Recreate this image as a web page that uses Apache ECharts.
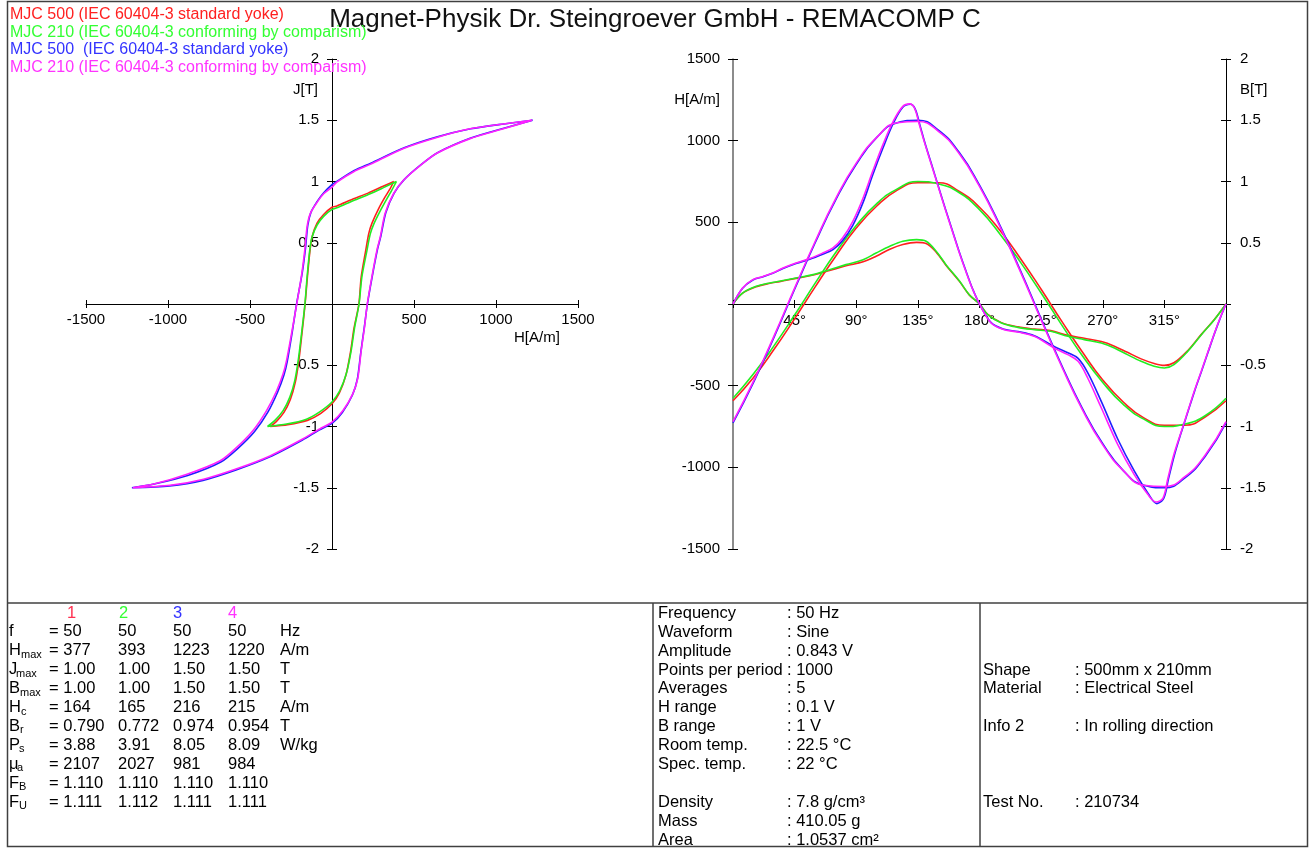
<!DOCTYPE html>
<html><head><meta charset="utf-8">
<script src="https://cdn.jsdelivr.net/npm/echarts@6/dist/echarts.min.js"></script>
<style>html,body{margin:0;padding:0;background:#fff}#c{width:1311px;height:848px}</style>
</head><body><div id="c"></div>
<script>
// ---------- DATA ----------
const TITLE = 'Magnet-Physik Dr. Steingroever GmbH - REMACOMP C';
const legendNames = ['MJC 500 (IEC 60404-3 standard yoke)','MJC 210 (IEC 60404-3 conforming by comparism)','MJC 500  (IEC 60404-3 standard yoke)','MJC 210 (IEC 60404-3 conforming by comparism)'];

// Hysteresis loops [H (A/m), J (T)]
const loopRed = [[377,1.0],[300,0.955],[220,0.905],[125,0.855],[30,0.80],[0,0.79],[-51,0.73],[-91,0.66],[-120,0.555],[-134,0.44],[-150,0.22],[-164,0],[-184,-0.25],[-203,-0.47],[-224,-0.64],[-254,-0.78],[-293,-0.885],[-340,-0.96],[-377,-1.0],[-270,-0.985],[-150,-0.95],[-70,-0.895],[0,-0.815],[45,-0.725],[84,-0.585],[113,-0.39],[134,-0.2],[164,0],[178,0.22],[206,0.44],[224,0.575],[244,0.66],[283,0.775],[322,0.87],[352,0.935],[377,1.0]];
const loopGreen = [[393,1.0],[314,0.95],[233,0.90],[132,0.845],[30,0.785],[0,0.772],[-51,0.715],[-91,0.645],[-122,0.545],[-136,0.436],[-152,0.218],[-165,0],[-186,-0.245],[-206,-0.46],[-227,-0.625],[-257,-0.76],[-298,-0.87],[-348,-0.95],[-393,-1.0],[-277,-0.98],[-156,-0.94],[-75,-0.88],[0,-0.80],[47,-0.71],[87,-0.57],[117,-0.38],[138,-0.19],[165,0],[182,0.22],[213,0.436],[233,0.57],[254,0.65],[294,0.76],[335,0.86],[365,0.93],[393,1.0]];
const loopBlue = [[1223,1.50],[1048,1.47],[846,1.43],[643,1.365],[440,1.275],[237,1.15],[136,1.09],[34,1.005],[0,0.974],[-49,0.91],[-89,0.84],[-128,0.75],[-148,0.64],[-162,0.45],[-182,0.25],[-216,0],[-245,-0.25],[-273,-0.47],[-293,-0.58],[-332,-0.72],[-392,-0.885],[-472,-1.04],[-575,-1.18],[-678,-1.29],[-880,-1.40],[-1085,-1.47],[-1220,-1.50],[-990,-1.485],[-787,-1.44],[-585,-1.355],[-382,-1.25],[-180,-1.11],[-79,-1.03],[0,-0.975],[63,-0.885],[124,-0.745],[155,-0.61],[176,-0.39],[196,-0.2],[216,0],[246,0.23],[278,0.45],[298,0.555],[328,0.745],[379,0.905],[440,1.015],[541,1.135],[643,1.235],[846,1.355],[1048,1.435],[1223,1.50]];
const loopMag = [[1220,1.50],[1044,1.47],[842,1.43],[639,1.36],[436,1.27],[233,1.14],[132,1.08],[30,0.995],[0,0.954],[-51,0.90],[-91,0.83],[-132,0.74],[-152,0.63],[-166,0.44],[-185,0.24],[-215,0],[-247,-0.245],[-277,-0.46],[-298,-0.57],[-338,-0.71],[-399,-0.87],[-480,-1.03],[-581,-1.17],[-682,-1.28],[-884,-1.39],[-1087,-1.47],[-1215,-1.50],[-986,-1.48],[-783,-1.43],[-581,-1.345],[-378,-1.24],[-176,-1.10],[-75,-1.02],[0,-0.965],[67,-0.87],[128,-0.73],[158,-0.60],[178,-0.38],[198,-0.19],[215,0],[243,0.22],[274,0.44],[294,0.545],[324,0.74],[375,0.90],[436,1.01],[537,1.13],[639,1.23],[842,1.35],[1044,1.43],[1220,1.50]];

// Waveforms: H(angle) [deg, A/m]
const hRed = [[0,0],[7,66],[17,106],[27,127],[34,137],[46,157],[58.5,177],[70.5,205],[82.5,234],[95,258],[104.5,292],[114.5,335],[124,364],[134,377],[141,370],[148.5,316],[155.5,238],[165.5,137],[172.5,56],[180,0],[186,-64],[196,-114],[208,-140],[220,-154],[232,-163],[244.5,-192],[256.5,-210],[269,-230],[278.5,-258],[288,-296],[298,-336],[307.5,-364],[315,-376],[322,-360],[332,-286],[342,-186],[351.5,-95],[360,0]];
const hGreen = [[0,0],[7,67],[17,108],[27,129],[34,139],[46,159],[58.5,180],[70.5,210],[82.5,241],[95,271],[104.5,312],[114.5,353],[124,384],[134,394],[141,384],[148.5,322],[155.5,241],[165.5,139],[172.5,57],[180,0],[186,-65],[196,-116],[208,-143],[220,-157],[232,-167],[244.5,-198],[256.5,-218],[269,-239],[278.5,-269],[288,-310],[298,-351],[307.5,-381],[315,-392],[322,-371],[332,-290],[342,-188],[351.5,-96],[360,0]];
const hBlue = [[0,0],[7,96],[14.5,147],[22,167],[29,188],[36.5,217],[46,248],[56,274],[65.5,305],[73,333],[80,388],[87.5,482],[95,622],[102,790],[109.5,955],[117,1105],[124,1205],[129.5,1223],[133,1195],[136.5,1095],[140,990],[145,855],[150,720],[155,585],[160,455],[165,325],[170,205],[175,92],[180,0],[188.5,-114],[198,-155],[208,-169],[220,-194],[234.5,-260],[244.5,-298],[252,-333],[259,-420],[269,-598],[281,-828],[293,-1022],[303,-1158],[309.5,-1222],[314.5,-1190],[318,-1070],[322.5,-920],[327,-795],[332,-665],[337,-535],[342,-415],[346.5,-305],[351.5,-183],[356,-82],[360,0]];
const hMag = [[0,0],[7,98],[14.5,149],[22,169],[29,190],[36.5,220],[46,251],[56,278],[65.5,312],[73,343],[80,404],[87.5,506],[95,649],[102,812],[109.5,976],[117,1118],[124,1210],[129,1225],[132.5,1200],[136,1100],[140,985],[145,850],[150,715],[155,580],[160,450],[165,320],[170,200],[175,90],[180,0],[188.5,-116],[198,-157],[208,-171],[220,-198],[234.5,-269],[244.5,-310],[252,-351],[259,-453],[269,-637],[281,-861],[293,-1045],[303,-1167],[309,-1212],[314,-1188],[317.5,-1070],[322,-920],[327,-790],[332,-660],[337,-530],[342,-410],[346.5,-300],[351.5,-180],[356,-80],[360,0]];

// Waveforms: B(angle) at 15 deg steps [T]
const angles15 = [0,15,30,45,60,75,90,105,120,135,150,165,180,195,210,225,240,255,270,285,300,315,330,345,360];
const bRed   = [-0.79,-0.60,-0.37,-0.12,0.14,0.39,0.62,0.80,0.93,0.99,0.99,0.92,0.79,0.60,0.37,0.12,-0.14,-0.39,-0.62,-0.80,-0.93,-0.99,-0.99,-0.92,-0.79];
const bGreen = [-0.77,-0.57,-0.34,-0.09,0.17,0.42,0.64,0.82,0.94,1.00,0.98,0.91,0.77,0.57,0.34,0.09,-0.17,-0.42,-0.64,-0.82,-0.94,-1.00,-0.98,-0.91,-0.77];
const bBlue  = [-0.97,-0.64,-0.27,0.12,0.50,0.85,1.14,1.36,1.48,1.50,1.42,1.24,0.97,0.64,0.27,-0.12,-0.50,-0.85,-1.14,-1.36,-1.48,-1.50,-1.42,-1.24,-0.97];
const bMag   = [-0.96,-0.63,-0.26,0.13,0.51,0.86,1.15,1.36,1.48,1.49,1.41,1.23,0.96,0.63,0.26,-0.13,-0.51,-0.86,-1.15,-1.36,-1.48,-1.49,-1.41,-1.23,-0.96];

// Result table
const paramMain = ['f','H','J','B','H','B','P','μ','F','F'];
const paramSub  = ['','max','max','max','c','r','s','a','B','U'];
const col1 = ['50','377','1.00','1.00','164','0.790','3.88','2107','1.110','1.111'];
const col2 = ['50','393','1.00','1.00','165','0.772','3.91','2027','1.110','1.112'];
const col3 = ['50','1223','1.50','1.50','216','0.974','8.05','981','1.110','1.111'];
const col4 = ['50','1220','1.50','1.50','215','0.954','8.09','984','1.110','1.111'];
const units = ['Hz','A/m','T','T','A/m','T','W/kg','','',''];
const infoLabels = ['Frequency','Waveform','Amplitude','Points per period','Averages','H range','B range','Room temp.','Spec. temp.','','Density','Mass','Area'];
const infoValues = [': 50 Hz',': Sine',': 0.843 V',': 1000',': 5',': 0.1 V',': 1 V',': 22.5 °C',': 22 °C','',': 7.8 g/cm³',': 410.05 g',': 1.0537 cm²'];
const sampleLabels = ['','','','Shape','Material','','Info 2','','','','Test No.'];
const sampleValues = ['','','',': 500mm x 210mm',': Electrical Steel','',': In rolling direction','','','',': 210734'];

// ---------- RENDER ----------
const FONT = '"Liberation Sans", Arial, Helvetica, sans-serif';
const C = ['#ff2020','#22ee22','#2020ff','#ff20ff'];
const LC = ['#ff2020','#33ff33','#3333ff','#ff33ff'];
const chart = echarts.init(document.getElementById('c'), null, {renderer:'canvas'});

function txt(x, y, text, size, color, align) {
  return {type:'text', x:x, y:y, silent:true, z:100,
    style:{text:text, fill:color||'#000', font:size+'px '+FONT,
      textAlign:align||'left', textVerticalAlign:'middle', align:align||'left', verticalAlign:'middle'}};
}
function ln(x1,y1,x2,y2,w,color){
  return {type:'line', silent:true, z:100, shape:{x1:x1,y1:y1,x2:x2,y2:y2}, style:{stroke:color||'#404040', lineWidth:w||1}};
}
const hide0 = v => (Math.abs(v) < 1e-9 ? '' : String(v));
const lbl = (margin, fmt) => ({show:true, formatter:fmt, margin:margin, color:'#000', fontSize:15, fontFamily:FONT, showMinLabel:true, showMaxLabel:true});
function xA(grid, min, max, interval, fmt, inside, margin, offset){
  return {gridIndex:grid, type:'value', min:min, max:max, interval:interval, position:'bottom', offset:offset,
    axisLine:{show:!inside, onZero:false, lineStyle:{color:'#000', width:1}},
    axisTick:{show:true, inside:inside, length:4, lineStyle:{color:'#000', width:1}},
    axisLabel: inside ? {show:false} : lbl(margin, fmt),
    splitLine:{show:false}, minorTick:{show:false}};
}
function yA(grid, min, max, interval, pos, offset, inside, margin, color, width){
  return {gridIndex:grid, type:'value', min:min, max:max, interval:interval, position:pos, offset:offset,
    axisLine:{show:!inside, onZero:false, lineStyle:{color:color||'#000', width:width||1}},
    axisTick:{show:true, inside:inside, length:5, lineStyle:{color:'#000', width:1}},
    axisLabel: inside ? {show:false} : lbl(margin, hide0),
    splitLine:{show:false}};
}
function ser(data, color, xi, yi, smooth, z){
  return {type:'line', data:data, xAxisIndex:xi, yAxisIndex:yi, symbol:'none', showSymbol:false,
    smooth:smooth, lineStyle:{color:color, width:1.6}, itemStyle:{color:color}, z:z, animation:false, silent:true};
}
const zip = (a, b) => a.map((v, i) => [v, b[i]]);

const graphics = [];
// frame
graphics.push({type:'rect', silent:true, z:100, shape:{x:7.5,y:1.5,width:1300,height:845}, style:{fill:null, stroke:'#404040', lineWidth:1.5}});
graphics.push(ln(7,603,1308,603,1.5));
graphics.push(ln(653,603,653,847,1.5));
graphics.push(ln(980,603,980,847,1.5));
// title & legend
graphics.push(txt(655, 20, TITLE, 26, '#111', 'center'));
const legY = [15, 33, 50, 68];
legendNames.forEach((n, i) => graphics.push(txt(10, legY[i], n, 16, LC[i], 'left')));
// axis names
graphics.push(txt(318, 90, 'J[T]', 15, '#000', 'right'));
graphics.push(txt(514, 338, 'H[A/m]', 15, '#000', 'left'));
graphics.push(txt(720, 100, 'H[A/m]', 15, '#000', 'right'));
graphics.push(txt(1240, 90, 'B[T]', 15, '#000', 'left'));
// results table
const TF = 16.5;
const rowY0 = 613, rowDy = 18.9;
['1','2','3','4'].forEach((s, i) => graphics.push(txt([67,119,173,228][i], rowY0, s, TF, ['#ff3050','#33ff33','#3333ff','#ff33ff'][i], 'left')));
const subX = {'f':0,'H':21,'J':16,'B':20,'P':19,'μ':17,'F':19};
paramMain.forEach((m, i) => {
  const y = rowY0 + rowDy*(i+1);
  graphics.push(txt(9, y, m, TF, '#000', 'left'));
  if (paramSub[i]) graphics.push(txt(subX[m], y+4, paramSub[i], 11, '#000', 'left'));
  graphics.push(txt(49, y, '= ' + col1[i], TF, '#000', 'left'));
  graphics.push(txt(118, y, col2[i], TF, '#000', 'left'));
  graphics.push(txt(173, y, col3[i], TF, '#000', 'left'));
  graphics.push(txt(228, y, col4[i], TF, '#000', 'left'));
  if (units[i]) graphics.push(txt(280, y, units[i], TF, '#000', 'left'));
});
infoLabels.forEach((l, i) => {
  const y = rowY0 + 0.3 + rowDy*i;
  if (l) graphics.push(txt(658, y, l, TF, '#000', 'left'));
  if (infoValues[i]) graphics.push(txt(787, y, infoValues[i], TF, '#000', 'left'));
});
sampleLabels.forEach((l, i) => {
  const y = rowY0 + 0.3 + rowDy*i;
  if (l) graphics.push(txt(983, y, l, TF, '#000', 'left'));
  if (sampleValues[i]) graphics.push(txt(1075, y, sampleValues[i], TF, '#000', 'left'));
});

const option = {
  backgroundColor:'#ffffff',
  animation:false,
  grid:[
    {left:86, width:492, top:59, height:490, containLabel:false},
    {left:733, width:493, top:59, height:490, containLabel:false}
  ],
  xAxis:[
    xA(0, -1500, 1500, 500, hide0, false, 8, -245),
    xA(0, -1500, 1500, 500, hide0, true, 8, -245),
    xA(1, 0, 360, 45, v => (v === 0 || v === 360) ? '' : v + '°', false, 9, -245),
    xA(1, 0, 360, 45, null, true, 9, -245)
  ],
  yAxis:[
    yA(0, -2, 2, 0.5, 'left', -246, false, 13),
    yA(0, -2, 2, 0.5, 'left', -246, true, 13),
    yA(1, -1500, 1500, 500, 'left', 0, false, 13, '#666', 1.5),
    yA(1, -1500, 1500, 500, 'left', 0, true, 13),
    yA(1, -2, 2, 0.5, 'right', 0, false, 14),
    yA(1, -2, 2, 0.5, 'right', 0, true, 14)
  ],
  series:[
    ser(loopRed,   C[0], 0, 0, 0.25, 2),
    ser(loopGreen, C[1], 0, 0, 0.25, 3),
    ser(loopBlue,  C[2], 0, 0, 0.25, 4),
    ser(loopMag,   C[3], 0, 0, 0.25, 5),
    ser(hRed,   C[0], 2, 2, 0.35, 2),
    ser(zip(angles15, bRed),   C[0], 2, 4, true, 2),
    ser(hGreen, C[1], 2, 2, 0.35, 3),
    ser(zip(angles15, bGreen), C[1], 2, 4, true, 3),
    ser(hBlue,  C[2], 2, 2, 0.35, 4),
    ser(zip(angles15, bBlue),  C[2], 2, 4, true, 4),
    ser(hMag,   C[3], 2, 2, 0.35, 5),
    ser(zip(angles15, bMag),   C[3], 2, 4, true, 5)
  ],
  graphic: graphics
};
chart.setOption(option);
</script></body></html>
